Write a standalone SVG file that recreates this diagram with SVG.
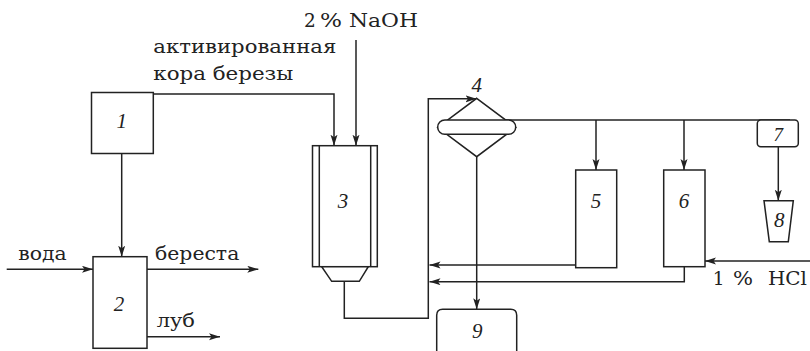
<svg xmlns="http://www.w3.org/2000/svg" width="810" height="351" viewBox="0 0 810 351">
<style>
.ln{fill:none;stroke:#222;stroke-width:1.5}
.bx{fill:#fff;stroke:#222;stroke-width:1.5}
.ar{marker-end:url(#ah)}
.t{font-family:"DejaVu Serif","Liberation Serif",serif;font-size:18.5px;fill:#222}
.n{font-family:"Liberation Serif","DejaVu Serif",serif;font-style:italic;font-size:21px;fill:#222;text-anchor:middle}
</style>
<defs>
<marker id="ah" markerUnits="userSpaceOnUse" markerWidth="12" markerHeight="8" refX="11" refY="3.5" orient="auto">
<path d="M0,0 L11,3.5 L0,7 L2.5,3.5 z" fill="#222"/>
</marker>
</defs>
<rect width="810" height="351" fill="#fff"/>
<g id="connectors">
<polyline class="ln ar" points="153.3,94 334,94 334,145.7"/>
<line class="ln ar" x1="356" y1="40" x2="356" y2="145.7"/>
<line class="ln ar" x1="121.7" y1="153.3" x2="121.7" y2="256.7"/>
<line class="ln ar" x1="6.7" y1="269.3" x2="93" y2="269.3"/>
<line class="ln ar" x1="147" y1="269.3" x2="258.3" y2="269.3"/>
<line class="ln ar" x1="147" y1="336.7" x2="220" y2="336.7"/>
<polyline class="ln ar" points="344.3,281.3 344.3,318.3 428.3,318.3 428.3,98.8 476.5,98.8"/>
<line class="ln" x1="505" y1="120" x2="790" y2="120"/>
<line class="ln ar" x1="596" y1="120" x2="596" y2="170"/>
<line class="ln ar" x1="684" y1="120" x2="684" y2="170"/>
<line class="ln ar" x1="778.3" y1="146.7" x2="778.3" y2="200.7"/>
<line class="ln ar" x1="476.7" y1="156.7" x2="476.7" y2="309.3"/>
<line class="ln ar" x1="575.7" y1="265" x2="429.5" y2="265"/>
<polyline class="ln ar" points="684.3,266.7 684.3,281.7 429.5,281.7"/>
<line class="ln ar" x1="810" y1="261" x2="705" y2="261"/>
</g>
<g id="labels">
<text class="t" x="304" y="27.3">2<tspan x="320" textLength="22" lengthAdjust="spacingAndGlyphs">%</tspan><tspan x="349" textLength="69" lengthAdjust="spacingAndGlyphs">NaOH</tspan></text>
<text class="t" x="153.3" y="53.3" textLength="183" lengthAdjust="spacingAndGlyphs">активированная</text>
<text class="t" x="153.3" y="80" textLength="140" lengthAdjust="spacingAndGlyphs">кора березы</text>
<text class="t" x="18.3" y="260" textLength="48.4" lengthAdjust="spacingAndGlyphs">вода</text>
<text class="t" x="155" y="260" textLength="84.3" lengthAdjust="spacingAndGlyphs">береста</text>
<text class="t" x="156.7" y="327.3" textLength="38.3" lengthAdjust="spacingAndGlyphs">луб</text>
<text class="t" x="712.7" y="285">1<tspan x="733" textLength="20" lengthAdjust="spacingAndGlyphs">%</tspan><tspan x="768" textLength="39" lengthAdjust="spacingAndGlyphs">HCl</tspan></text>
</g>
<g id="node1">
<rect class="bx" x="91.5" y="92.5" width="61.8" height="61"/>
<text class="n" x="121.7" y="128.3">1</text>
</g>
<g id="node2">
<rect class="bx" x="93" y="256.7" width="54" height="91.6"/>
<text class="n" x="119" y="310.7">2</text>
</g>
<g id="node3">
<rect class="bx" x="312.5" y="145.7" width="64.8" height="121"/>
<line class="ln" x1="319.3" y1="145.7" x2="319.3" y2="266.7"/>
<line class="ln" x1="370.7" y1="145.7" x2="370.7" y2="266.7"/>
<polygon class="bx" points="321.7,266.7 368.3,266.7 359.3,281.3 331.7,281.3"/>
<text class="n" x="343" y="207.5">3</text>
</g>
<g id="node4">
<polygon class="bx" points="476.7,98.3 515.7,127.5 476.7,156.7 437.7,127.5"/>
<rect class="bx" x="437.7" y="120" width="78" height="14.3" rx="7.15"/>
<text class="n" x="476.7" y="92">4</text>
</g>
<g id="node5">
<rect class="bx" x="575.7" y="170" width="41" height="97.7"/>
<text class="n" x="596" y="208">5</text>
</g>
<g id="node6">
<rect class="bx" x="663.7" y="170" width="41.3" height="96.7"/>
<text class="n" x="684" y="208">6</text>
</g>
<g id="node7">
<rect class="bx" x="757.3" y="120" width="41" height="26.7" rx="3.5"/>
<text class="n" x="778.3" y="141" style="font-size:19px">7</text>
</g>
<g id="node8">
<polygon class="bx" points="764,200.7 793.3,200.7 788.3,241.7 769.3,241.7"/>
<text class="n" x="779.3" y="226.7">8</text>
</g>
<g id="node9">
<path class="bx" d="M436.7,352 V315.3 Q436.7,309.3 442.7,309.3 H510.7 Q516.7,309.3 516.7,315.3 V352"/>
<text class="n" x="477.3" y="338">9</text>
</g>
</svg>
